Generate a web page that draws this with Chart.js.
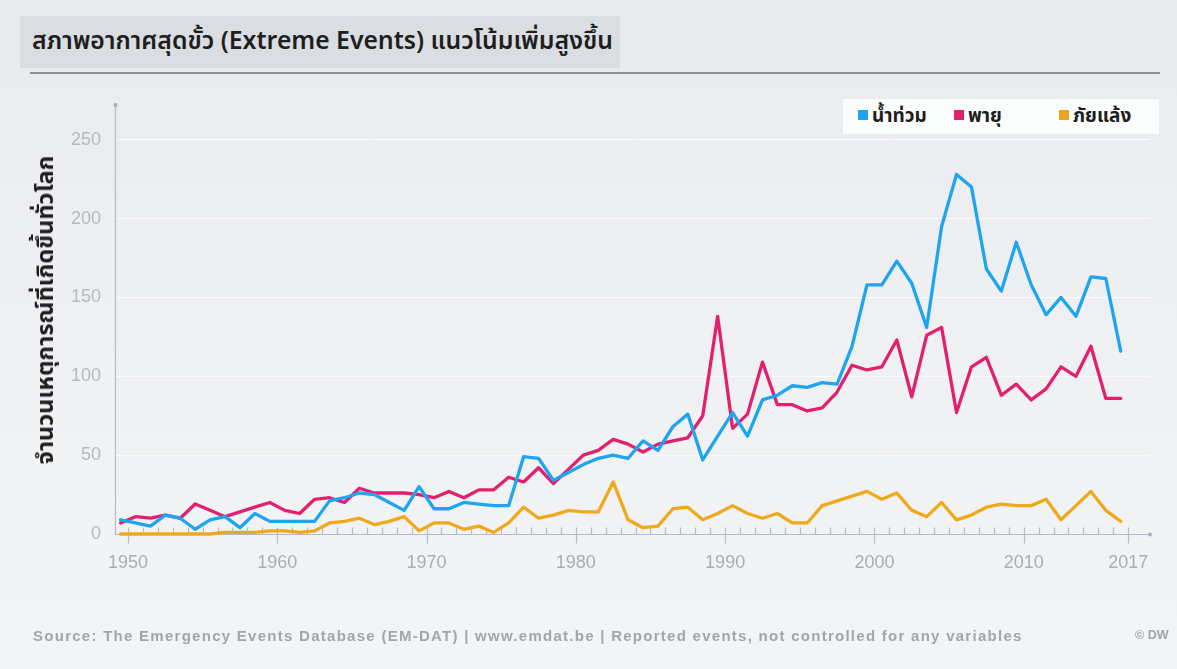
<!DOCTYPE html>
<html lang="th">
<head>
<meta charset="utf-8">
<title>Extreme Events</title>
<script src="https://cdn.jsdelivr.net/npm/chart.js@4.4.1/dist/chart.umd.min.js"></script>
<style>
    html, body { margin: 0; padding: 0; }
    body {
        width: 1177px; height: 669px; position: relative; overflow: hidden;
        background: linear-gradient(180deg, #e8eaed 0%, #eceef1 30%, #f1f2f4 70%, #f3f4f6 100%);
        font-family: "Noto Sans Thai", "Noto Sans", "DejaVu Sans", sans-serif;
    }
    #chart { position: absolute; left: 0; top: 0; }
    .title-box {
        position: absolute; left: 20px; top: 16px; width: 600px; height: 52px;
        background: #dadde2;
    }
    .title-box span {
        position: absolute; left: 12px; top: 7px;
        font-size: 24.8px; font-weight: 600; color: #1e1e1e; white-space: nowrap;
    }
    .rule { position: absolute; left: 30px; top: 72px; width: 1130px; height: 2px; background: #8e9399; }
    .legend {
        position: absolute; left: 843px; top: 99px; width: 316px; height: 35px;
        background: #fbfcfc;
    }
    .legend .item { position: absolute; top: 3px; font-size: 19px; font-weight: bold; color: #1e1e1e; white-space: nowrap; }
    .legend .sw { display: inline-block; width: 10px; height: 10px; margin-right: 4px; vertical-align: 2px; }
    .ytitle {
        position: absolute; left: 46px; top: 310px; transform: translate(-50%, -50%) rotate(-90deg);
        font-size: 23.5px; font-weight: bold; color: #1e1e1e; white-space: nowrap;
    }
    .footer {
        position: absolute; left: 33px; top: 627px; font-family: "Liberation Sans", Arial, sans-serif;
        font-size: 15px; font-weight: bold; color: #a2a5aa; letter-spacing: 1.27px; white-space: nowrap;
    }
    .credit {
        position: absolute; left: 1135px; top: 628px; font-family: "Liberation Sans", Arial, sans-serif;
        font-size: 12.5px; font-weight: bold; color: #a2a5aa; white-space: nowrap;
    }
</style>
</head>
<body>
<canvas id="chart" width="1177" height="669"></canvas>
<div class="title-box"><span>สภาพอากาศสุดขั้ว (Extreme Events) แนวโน้มเพิ่มสูงขึ้น</span></div>
<div class="rule"></div>
<div class="legend">
    <div class="item" style="left:15px"><span class="sw" style="background:#1fa4ef"></span>น้ำท่วม</div>
    <div class="item" style="left:111px"><span class="sw" style="background:#e2206d"></span>พายุ</div>
    <div class="item" style="left:216px"><span class="sw" style="background:#f0a21d"></span>ภัยแล้ง</div>
</div>
<div class="ytitle">จำนวนเหตุการณ์ที่เกิดขึ้นทั่วโลก</div>
<div class="footer">Source: The Emergency Events Database (EM-DAT) | www.emdat.be | Reported events, not controlled for any variables</div>
<div class="credit">© DW</div>

<script>
    "use strict";

    var years = [
        1950, 1951, 1952, 1953, 1954, 1955, 1956, 1957, 1958, 1959,
        1960, 1961, 1962, 1963, 1964, 1965, 1966, 1967, 1968, 1969,
        1970, 1971, 1972, 1973, 1974, 1975, 1976, 1977, 1978, 1979,
        1980, 1981, 1982, 1983, 1984, 1985, 1986, 1987, 1988, 1989,
        1990, 1991, 1992, 1993, 1994, 1995, 1996, 1997, 1998, 1999,
        2000, 2001, 2002, 2003, 2004, 2005, 2006, 2007, 2008, 2009,
        2010, 2011, 2012, 2013, 2014, 2015, 2016, 2017
    ];

    // น้ำท่วม
    var floods = [
        9, 7, 5, 12, 10, 3, 9, 11, 4, 13,
        8, 8, 8, 8, 21, 23, 26, 25, 20, 15,
        30, 16, 16, 20, 19, 18, 18, 49, 48, 34,
        39, 44, 48, 50, 48, 59, 53, 68, 76, 47,
        62, 77, 62, 85, 88, 94, 93, 96, 95, 119,
        158, 158, 173, 159, 131, 195, 228, 220, 168, 154,
        185, 158, 139, 150, 138, 163, 162, 116
    ];

    // พายุ
    var storms = [
        7, 11, 10, 12, 10, 19, 15, 11, 14, 17,
        20, 15, 13, 22, 23, 20, 29, 26, 26, 26,
        25, 23, 27, 23, 28, 28, 36, 33, 42, 32,
        41, 50, 53, 60, 57, 52, 57, 59, 61, 75,
        138, 67, 76, 109, 82, 82, 78, 80, 90, 107,
        104, 106, 123, 87, 126, 131, 77, 106, 112, 88,
        95, 85, 92, 106, 100, 119, 86, 86
    ];

    // ภัยแล้ง
    var droughts = [
        0, 0, 0, 0, 0, 0, 0, 1, 1, 1,
        2, 2, 1, 2, 7, 8, 10, 6, 8, 11,
        2, 7, 7, 3, 5, 1, 7, 17, 10, 12,
        15, 14, 14, 33, 9, 4, 5, 16, 17, 9,
        13, 18, 13, 10, 13, 7, 7, 18, 21, 24,
        27, 22, 26, 15, 11, 20, 9, 12, 17, 19,
        18, 18, 22, 9, 18, 27, 15, 8
    ];

    var yearLabels = [1950, 1960, 1970, 1980, 1990, 2000, 2010, 2017];
    var yTicks = [0, 50, 100, 150, 200, 250];

    var seriesColors = ['#1fa4ef', '#e2206d', '#f0a91d'];

    function toPoints(values) {
        return values.map(function (v, i) { return { x: years[i], y: v }; });
    }

    // axis lines, yearly ticks and end dots
    var axisDecor = {
        id: 'axisDecor',
        beforeDatasetsDraw: function (chart) {
            var ctx = chart.ctx;
            var a = chart.chartArea;
            var x = chart.scales.x;
            var y = chart.scales.y;
            var y0 = Math.round(y.getPixelForValue(0)) + 0.5;

            ctx.save();
            ctx.strokeStyle = '#b4bcc7';
            ctx.lineWidth = 1.2;
            ctx.beginPath();
            ctx.moveTo(a.left + 0.5, a.top);
            ctx.lineTo(a.left + 0.5, y0);
            ctx.lineTo(a.right, y0);
            ctx.stroke();

            // tick marks sit in the middle of each year
            years.forEach(function (yr) {
                var px = Math.round(x.getPixelForValue(yr + 0.5)) + 0.5;
                var major = yearLabels.indexOf(yr) !== -1;
                ctx.beginPath();
                ctx.moveTo(px, y0 - 7);
                ctx.lineTo(px, major ? y0 + 9 : y0);
                ctx.stroke();
            });

            ctx.fillStyle = '#a7b0bd';
            ctx.beginPath();
            ctx.arc(a.left + 0.5, a.top, 2, 0, Math.PI * 2);
            ctx.arc(a.right, y0, 2, 0, Math.PI * 2);
            ctx.fill();
            ctx.restore();
        }
    };

    var ctx = document.getElementById('chart').getContext('2d');
    new Chart(ctx, {
        type: 'line',
        data: {
            datasets: [
                { label: 'น้ำท่วม', data: toPoints(floods), borderColor: seriesColors[0] },
                { label: 'พายุ', data: toPoints(storms), borderColor: seriesColors[1] },
                { label: 'ภัยแล้ง', data: toPoints(droughts), borderColor: seriesColors[2] }
            ]
        },
        options: {
            responsive: false,
            animation: false,
            clip: false,
            layout: { padding: { left: 0, top: 105, right: 27, bottom: 0 } },
            elements: {
                line: { borderWidth: 3.3, tension: 0, borderJoinStyle: 'round', borderCapStyle: 'round' },
                point: { radius: 0, hoverRadius: 0 }
            },
            plugins: {
                legend: { display: false },
                tooltip: { enabled: false }
            },
            scales: {
                x: {
                    type: 'linear',
                    min: 1949.63,
                    max: 2018.96,
                    grid: { display: false, drawTicks: false },
                    border: { display: false },
                    afterBuildTicks: function (scale) {
                        scale.ticks = yearLabels.map(function (v) { return { value: v + 0.5 }; });
                    },
                    ticks: {
                        autoSkip: false,
                        maxRotation: 0,
                        padding: 18,
                        color: '#a9aeb6',
                        font: { family: '"Liberation Sans", Arial, sans-serif', size: 18 },
                        callback: function (value) { return String(Math.floor(value)); }
                    },
                    afterFit: function (scale) { scale.height = 135; }
                },
                y: {
                    min: 0,
                    max: 272,
                    grid: { color: 'rgba(255,255,255,0.8)', lineWidth: 1, drawTicks: false },
                    border: { display: false },
                    afterBuildTicks: function (scale) {
                        scale.ticks = yTicks.map(function (v) { return { value: v }; });
                    },
                    ticks: {
                        padding: 14,
                        color: '#b5bac1',
                        font: { family: '"Liberation Sans", Arial, sans-serif', size: 18 }
                    },
                    afterFit: function (scale) { scale.width = 115; }
                }
            }
        },
        plugins: [axisDecor]
    });
</script>
</body>
</html>
